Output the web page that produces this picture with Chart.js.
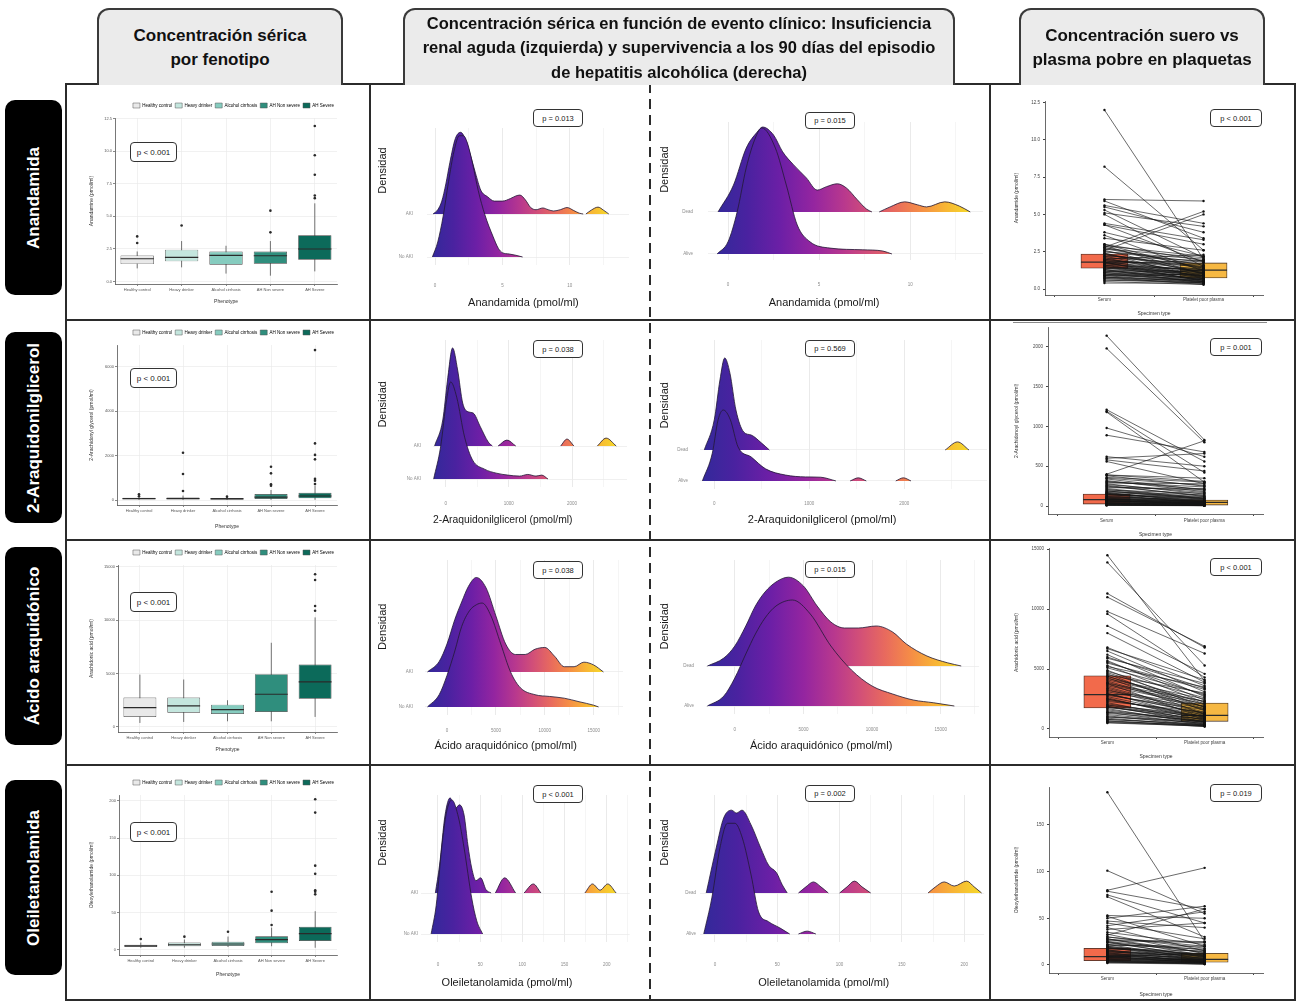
<!DOCTYPE html>
<html>
<head>
<meta charset="utf-8">
<script src="https://cdn.jsdelivr.net/npm/chart.js@4.4.1/dist/chart.umd.min.js"></script>
<style>
  body { margin: 0; background: #fff; width: 1296px; height: 1001px; overflow: hidden; position: relative;
         font-family: "Liberation Sans", Arial, sans-serif; }
  canvas { position: absolute; }
  .hdr { position: absolute; top: 8px; height: 77px; background: #ebebeb; border: 2px solid #3a3a3a; border-bottom: none;
         border-radius: 12px 12px 0 0; box-sizing: border-box; display: flex; align-items: center; justify-content: center;
         text-align: center; font-weight: bold; color: #111; z-index: 4; }
  .lab { position: absolute; left: 5px; width: 57px; background: #000; border-radius: 10px; z-index: 4; }
  .lab span { position: absolute; left: 50%; top: 50%; transform: translate(-50%, -50%) rotate(-90deg);
              color: #fff; font-weight: bold; font-size: 17px; white-space: nowrap; }
  .hl { position: absolute; left: 65px; width: 1231px; height: 2px; background: #2b2b2b; z-index: 3; }
  .vl { position: absolute; top: 83px; height: 918px; width: 2px; background: #2b2b2b; z-index: 3; }
  .dash { position: absolute; top: 83px; height: 918px; width: 2px; z-index: 3;
          background: repeating-linear-gradient(to bottom, #2b2b2b 0 10px, transparent 10px 16px); }
  .pbox { position: absolute; border: 1.5px solid #333; border-radius: 4px; background: #fff; box-sizing: border-box;
          display: flex; align-items: center; justify-content: center; font-size: 7.5px; color: #222; z-index: 5; }
</style>
</head>
<body>

<div class="hdr" style="left:97px;width:246px;font-size:17px;line-height:24px;">Concentración sérica<br>por fenotipo</div>
<div class="hdr" style="left:403px;width:552px;font-size:16.5px;line-height:24.5px;">Concentración sérica en función de evento clínico: Insuficiencia<br>renal aguda (izquierda) y supervivencia a los 90 días del episodio<br>de hepatitis alcohólica (derecha)</div>
<div class="hdr" style="left:1019px;width:246px;font-size:17px;line-height:24px;">Concentración suero vs<br>plasma pobre en plaquetas</div>

<div class="lab" style="top:100px;height:195px;"><span>Anandamida</span></div>
<div class="lab" style="top:332px;height:191px;"><span>2-Araquidonilglicerol</span></div>
<div class="lab" style="top:547px;height:198px;"><span>Ácido araquidónico</span></div>
<div class="lab" style="top:780px;height:195px;"><span>Oleiletanolamida</span></div>

<div class="hl" style="top:83px;"></div>
<div class="hl" style="top:319px;"></div>
<div class="hl" style="top:539px;"></div>
<div class="hl" style="top:764px;"></div>
<div class="hl" style="top:999px;"></div>
<div class="vl" style="left:65px;"></div>
<div class="vl" style="left:369px;"></div>
<div class="dash" style="left:649px;"></div>
<div class="vl" style="left:989px;"></div>
<div class="vl" style="left:1294px;"></div>
<div style="position:absolute;left:1013px;top:322px;width:254px;height:1px;background:#8a8a8a;z-index:3;"></div>

<script>
// ---------- column 1: serum concentration by phenotype (box plots) ----------
const phenotypes = ['Healthy control', 'Heavy drinker', 'Alcohol cirrhosis', 'AH Non severe', 'AH Severe'];

const aeaLow = [1.0, 1.08, 0.6, 0.44, 0.77];
const aeaQ1 = [1.33, 1.54, 1.28, 1.36, 1.67];
const aeaMed = [1.74, 1.85, 2.0, 1.97, 2.49];
const aeaQ3 = [2.0, 2.44, 2.3, 2.3, 3.54];
const aeaHigh = [2.3, 3.1, 2.74, 3.1, 6.0];
const aeaOut = [[2.95, 3.46], [4.3], [], [3.77, 5.44], [6.4, 6.6, 8.2, 9.7, 11.95]];

const agLow = [5, 5, 5, 10, 10];
const agQ1 = [30, 35, 25, 45, 75];
const agMed = [60, 65, 50, 130, 180];
const agQ3 = [100, 110, 90, 270, 330];
const agHigh = [140, 200, 130, 450, 650];
const agOut = [[170, 255], [405, 1170, 2130], [150], [645, 705, 1200, 1500], [720, 870, 950, 1830, 2030, 2550, 6750]];

const aaLow = [375, 470, 530, 530, 940];
const aaQ1 = [940, 1340, 1220, 1400, 2650];
const aaMed = [1810, 1970, 1625, 3060, 4220];
const aaQ3 = [2750, 2750, 2090, 4940, 5840];
const aaHigh = [4900, 4440, 2500, 7875, 10250];
const aaOut = [[], [], [], [], [10875, 11310, 13750, 14280]];

const oeaLow = [3, 3, 4, 5, 3];
const oeaQ1 = [4, 5, 5.4, 9, 12];
const oeaMed = [5.5, 7, 8, 14, 22];
const oeaQ3 = [7, 10, 11, 18.3, 31];
const oeaHigh = [10, 14, 18, 30, 52];
const oeaOut = [[14.7], [17.9], [24.5], [33.5, 52.7, 78], [74.5, 78, 80, 102, 113, 184, 202]];

const aeaTicks = [0, 2.5, 5, 7.5, 10, 12.5];
const agTicks = [0, 2000, 4000, 6000];
const aaTicks = [0, 5000, 10000, 15000];
const oeaTicks = [0, 50, 100, 150, 200];

// ---------- column 2: density ridges (x value, ridge height in row units) ----------
const aeaAkiX = [-0.15, 0.2, 0.5, 0.8, 1.1, 1.5, 1.9, 2.3, 2.6, 3.0, 3.4, 3.9, 4.4, 5.0, 5.6, 6.0, 6.3, 6.7, 7.1, 7.5, 8.0, 8.4, 8.8, 9.3, 9.8, 10.3, 10.7, 11.0, 11.1, 11.2, 11.6, 12.1, 12.5, 12.9];
const aeaAkiH = [0, 0.1, 0.3, 0.7, 1.2, 1.75, 1.9, 1.7, 1.4, 0.95, 0.55, 0.4, 0.3, 0.3, 0.36, 0.42, 0.44, 0.33, 0.15, 0.1, 0.14, 0.1, 0.07, 0.1, 0.15, 0.08, 0.02, 0, null, 0, 0.09, 0.16, 0.09, 0];
const aeaNoAkiX = [-0.2, 0.2, 0.6, 1.0, 1.4, 1.8, 2.1, 2.4, 2.8, 3.2, 3.7, 4.3, 4.7, 5.0, 5.5, 6.0, 6.5];
const aeaNoAkiH = [0, 0.35, 0.95, 1.75, 2.45, 2.82, 2.82, 2.65, 2.15, 1.55, 0.98, 0.48, 0.2, 0.1, 0.07, 0.04, 0];
const aeaDeadX = [-0.55, 0.3, 1.0, 1.6, 1.9, 2.5, 3.0, 3.6, 4.3, 4.9, 5.4, 6.0, 6.5, 7.1, 7.6, 7.9, 8.1, 8.3, 8.9, 9.7, 10.4, 10.9, 11.9, 12.7, 13.3];
const aeaDeadH = [0, 0.64, 1.52, 1.9, 2.02, 1.83, 1.43, 1.12, 0.81, 0.52, 0.6, 0.67, 0.57, 0.29, 0.07, 0, null, 0, 0.12, 0.24, 0.17, 0.12, 0.24, 0.14, 0];
const aeaAliveX = [-0.6, 0, 0.5, 1.0, 1.5, 1.85, 2.6, 3.2, 3.8, 4.5, 5.6, 7.4, 8.5, 9.0];
const aeaAliveH = [0, 0.29, 1.0, 2.05, 2.76, 3.0, 2.52, 1.64, 0.69, 0.29, 0.14, 0.1, 0.07, 0];

const agAkiX = [-175, -45, 30, 110, 190, 270, 365, 435, 550, 675, 740, 780, 830, 970, 1110, 1400, 1820, 1920, 2030, 2300, 2400, 2540, 2700];
const agAkiH = [0, 0.79, 2.0, 2.97, 2.3, 1.3, 1.03, 1.0, 0.58, 0.12, 0, null, 0, 0.18, 0, null, 0, 0.21, 0, null, 0, 0.24, 0];
const agNoAkiX = [-190, -80, 15, 80, 175, 300, 425, 615, 800, 985, 1170, 1300, 1430, 1520, 1620];
const agNoAkiH = [0, 0.97, 2.4, 2.94, 2.48, 1.27, 0.58, 0.3, 0.18, 0.12, 0.09, 0.14, 0.09, 0.12, 0];
const agDeadX = [-105, 0, 60, 110, 165, 228, 310, 390, 495, 580, 1000, 2430, 2560, 2680];
const agDeadH = [0, 0.97, 2.26, 2.97, 2.48, 1.29, 0.58, 0.48, 0.23, 0, null, 0, 0.26, 0];
const agAliveX = [-125, -20, 40, 95, 170, 250, 390, 540, 750, 960, 1120, 1280, 1350, 1430, 1515, 1600, 1750, 1910, 1990, 2070];
const agAliveH = [0, 0.9, 1.97, 2.29, 1.97, 1.1, 0.77, 0.39, 0.19, 0.13, 0.12, 0, null, 0, 0.1, 0, null, 0, 0.1, 0];

const aaAkiX = [-2000, -800, 0, 800, 1500, 2200, 3000, 4000, 5000, 6000, 7000, 8000, 9000, 10000, 11000, 12000, 13000, 14000, 15000, 16000];
const aaAkiH = [0, 0.3, 0.8, 1.5, 2.0, 2.45, 2.7, 2.4, 1.6, 0.8, 0.5, 0.5, 0.65, 0.7, 0.45, 0.15, 0.15, 0.28, 0.2, 0];
const aaNoAkiX = [-2000, -800, 0, 800, 1500, 2300, 3000, 3600, 4500, 5500, 6500, 7500, 9000, 10500, 12000, 13500, 15000, 15500];
const aaNoAkiH = [0, 0.35, 0.9, 1.6, 2.3, 2.75, 2.92, 2.97, 2.6, 1.8, 1.0, 0.55, 0.35, 0.3, 0.25, 0.15, 0.05, 0];
const aaDeadX = [-2000, -800, 0, 800, 1500, 2200, 3000, 3900, 5000, 6000, 7000, 8000, 9000, 10300, 11500, 12500, 14000, 15500, 16500];
const aaDeadH = [0, 0.2, 0.5, 1.0, 1.5, 1.85, 2.1, 2.22, 2.0, 1.5, 1.1, 0.95, 0.95, 1.0, 0.85, 0.55, 0.25, 0.08, 0];
const aaAliveX = [-2000, -800, 0, 800, 1500, 2200, 3000, 4200, 5500, 7000, 8500, 10000, 11500, 13000, 14500, 16000];
const aaAliveH = [0, 0.25, 0.7, 1.3, 1.8, 2.2, 2.5, 2.65, 2.3, 1.5, 0.9, 0.5, 0.3, 0.15, 0.08, 0];

const oeaAkiX = [-3, 2, 8.5, 14.5, 20, 25.5, 31, 35.5, 40, 45, 50.6, 57, 63, 65, 68, 79, 92, 97, 102, 113, 122, 150, 174, 183, 192, 201, 211];
const oeaAkiH = [0, 0.68, 1.9, 2.32, 2.05, 2.15, 1.9, 1.17, 0.61, 0.3, 0.37, 0.08, 0, null, 0, 0.37, 0, null, 0, 0.22, 0, null, 0, 0.22, 0.07, 0.22, 0];
const oeaNoAkiX = [-8, -2, 4.5, 10, 16.5, 24.5, 31, 40, 46, 53];
const oeaNoAkiH = [0, 0.7, 2.1, 2.95, 3.27, 2.83, 2.1, 0.88, 0.32, 0];
const oeaDeadX = [-7, 1, 7, 13.3, 17.3, 21.7, 29, 36.7, 43, 49.5, 54, 58, 62, 67, 73, 79, 85, 91, 95, 100, 106, 112, 118, 125, 150, 171, 177, 184, 192, 202, 208, 214];
const oeaDeadH = [0, 1.1, 1.83, 2.02, 1.95, 2.02, 1.66, 1.1, 0.68, 0.49, 0.2, 0, null, 0, 0.15, 0.27, 0.15, 0, null, 0, 0.15, 0.29, 0.15, 0, null, 0, 0.15, 0.27, 0.17, 0.29, 0.15, 0];
const oeaAliveX = [-9, -2.5, 4, 10, 16, 22, 29, 35, 43, 52, 60, 64, 67, 74, 81];
const oeaAliveH = [0, 0.88, 2.1, 2.7, 2.7, 2.34, 1.44, 0.54, 0.3, 0.15, 0, null, 0, 0.07, 0];

// ---------- column 3: paired serum vs platelet poor plasma ----------
const aeaSerum = [12.0, 8.2, 6.0, 5.9, 5.6, 5.5, 5.3, 5.1, 5.0, 4.4, 4.3, 4.3, 3.8, 3.6, 3.4, 3.0, 2.9, 2.8, 2.6, 2.7, 2.5, 2.4, 2.3, 2.2, 2.1, 2.0, 2.0, 1.9, 1.9, 1.8, 1.8, 1.7, 1.7, 1.6, 1.6, 1.5, 1.5, 1.4, 1.4, 1.3, 1.3, 1.2, 1.2, 1.1, 1.1, 1.0, 1.0, 0.9, 0.9, 0.8, 0.8, 0.7, 0.6, 0.5, 0.4,
                  2.8, 2.7, 2.6, 2.5, 2.4, 2.3, 2.2, 2.1, 2.0, 1.9, 1.8, 1.7, 1.6, 1.5, 1.4, 1.3, 1.2, 1.1, 1.0, 0.9, 0.8, 0.7, 0.6, 2.9, 3.0];
const aeaPpp = [2.0, 2.6, 5.9, 3.4, 4.4, 3.8, 2.1, 4.2, 1.5, 3.3, 3.0, 1.8, 2.2, 1.2, 2.6, 1.9, 1.0, 5.2, 5.0, 1.6, 2.0, 1.1, 1.4, 0.9, 1.7, 1.3, 2.3, 0.8, 1.5, 1.2, 0.7, 1.0, 1.9, 1.3, 0.6, 1.1, 0.9, 1.4, 0.8, 1.0, 0.6, 0.7, 1.2, 0.9, 0.5, 0.8, 0.6, 0.7, 0.4, 0.5, 0.6, 0.4, 0.5, 0.3, 0.4,
               1.4, 2.1, 1.0, 1.8, 0.7, 1.5, 1.9, 0.8, 1.1, 1.6, 0.5, 1.2, 0.9, 0.6, 1.1, 0.4, 0.9, 0.7, 0.5, 1.0, 0.3, 0.6, 0.4, 2.2, 1.3];
const agSerum = [2140, 1980, 1210, 1190, 1180, 980, 890, 620, 600, 580, 560, 400, 390, 380, 360, 340, 320, 300, 280, 260, 240, 220, 210, 200, 190, 180, 170, 160, 150, 150, 140, 130, 120, 110, 100, 100, 95, 90, 85, 80, 75, 70, 65, 60, 55, 50, 45, 40, 35, 30, 25, 20, 15, 10,
                 390, 350, 310, 290, 270, 250, 230, 190, 170, 160, 140, 120, 110, 90, 80, 70, 60, 50, 40, 30, 25, 20, 15, 12, 8];
const agPpp = [830, 800, 560, 420, 300, 620, 680, 500, 660, 440, 280, 820, 350, 250, 300, 200, 180, 240, 150, 120, 200, 100, 90, 160, 80, 140, 45, 60, 110, 30, 90, 50, 70, 40, 60, 25, 55, 30, 15, 50, 35, 20, 18, 40, 45, 30, 12, 15, 28, 20, 8, 10, 5, 6,
               310, 260, 210, 280, 170, 130, 220, 95, 120, 70, 100, 55, 80, 40, 65, 25, 35, 50, 20, 30, 10, 15, 8, 6, 4];
const aaSerum = [14500, 13900, 11300, 11000, 9800, 9600, 8600, 8000, 6800, 6700, 6500, 6200, 5900, 5700, 5500, 5300, 5100, 4900, 4800, 4600, 4500, 4400, 4300, 4100, 4000, 3800, 3700, 3500, 3300, 3200, 3000, 2900, 2800, 2600, 2500, 2400, 2200, 2100, 2000, 1900, 1800, 1700, 1500, 1400, 1300, 1100, 1000, 900, 800, 700, 600, 500,
                 6000, 5600, 5200, 4700, 4200, 3900, 3600, 3400, 3100, 2700, 2300, 2000, 1800, 1600, 1400, 1200, 1000, 800, 650, 550, 4400, 3800, 2900, 2500, 1900];
const aaPpp = [4000, 5300, 6800, 6900, 6300, 4300, 4600, 3900, 3600, 4100, 3100, 2700, 3800, 2400, 3300, 2200, 2900, 1800, 2600, 1500, 3000, 2000, 1200, 2300, 1700, 900, 2100, 1400, 1100, 1900, 800, 1300, 1600, 700, 1000, 1200, 600, 900, 1100, 500, 800, 400, 600, 350, 700, 300, 500, 250, 400, 200, 300, 250,
               3400, 2800, 3500, 2100, 2500, 1600, 1900, 1300, 1700, 1000, 1400, 750, 1050, 550, 850, 450, 650, 350, 300, 220, 1800, 2300, 1250, 900, 600];
const oeaSerum = [185, 101, 80, 79, 75, 73, 53, 52, 50, 47, 45, 42, 40, 38, 35, 33, 32, 30, 28, 27, 25, 24, 22, 21, 20, 19, 18, 17, 16, 15, 14, 13, 12, 11, 10, 10, 9, 8, 8, 7, 6, 6, 5, 4, 3, 3,
                  30, 28, 26, 24, 22, 20, 18, 16, 14, 13, 12, 11, 10, 9, 8, 7, 6, 5, 4, 4, 3, 2, 25, 19, 15];
const oeaPpp = [25, 55, 104, 60, 45, 30, 50, 20, 63, 40, 28, 57, 15, 45, 22, 12, 60, 18, 10, 25, 8, 14, 6, 20, 11, 5, 9, 15, 7, 4, 10, 6, 3, 8, 5, 12, 4, 6, 3, 5, 2, 4, 3, 2, 2, 1,
                20, 13, 24, 9, 17, 7, 12, 5, 9, 3, 7, 4, 6, 2, 5, 3, 4, 2, 3, 1, 2, 1, 16, 10, 11];
// box: [q1, median, q3]
const aeaSerumBox = [1.4, 1.8, 2.35];
const aeaPppBox = [0.74, 1.27, 1.75];
const agSerumBox = [25, 80, 150];
const agPppBox = [12, 45, 75];
const aaSerumBox = [1750, 2860, 4440];
const aaPppBox = [640, 1140, 2170];
const oeaSerumBox = [4.6, 8.9, 17.9];
const oeaPppBox = [2.9, 6, 12.5];
const pairTicksAea = [0, 2.5, 5, 7.5, 10, 12.5];
const pairTicksAg = [0, 500, 1000, 1500, 2000];
const pairTicksAa = [0, 5000, 10000, 15000];
const pairTicksOea = [0, 50, 100, 150];

const pPhenotype = ['p < 0.001', 'p < 0.001', 'p < 0.001', 'p < 0.001'];
const pAki = ['p = 0.013', 'p = 0.038', 'p = 0.038', 'p < 0.001'];
const pSurvival = ['p = 0.015', 'p = 0.569', 'p = 0.015', 'p = 0.002'];
const pSpecimen = ['p < 0.001', 'p = 0.001', 'p < 0.001', 'p = 0.019'];

// ---------------------------------------------------------------------------
Chart.defaults.font.family = "'Liberation Sans', Arial, sans-serif";
Chart.defaults.animation = false;

const phenoColors = ['#e9e9e9', '#c4e6de', '#86ccbf', '#2f8e7d', '#0c6a5a'];
const plasmaStops = [[0, '#33299a'], [0.12, '#4a22a0'], [0.25, '#6c1fa6'], [0.38, '#9425a0'], [0.5, '#b8388e'],
                     [0.6, '#d24f78'], [0.7, '#e86a5e'], [0.8, '#f58c47'], [0.9, '#f8b535'], [1, '#f5d92a']];
const sp = n => '\u00a0'.repeat(n);

function makeCanvas(x, y, w, h) {
  var c = document.createElement('canvas');
  c.width = w; c.height = h;
  c.style.left = x + 'px'; c.style.top = y + 'px';
  c.style.width = w + 'px'; c.style.height = h + 'px';
  document.body.appendChild(c);
  return c;
}

function pBox(x, y, w, h, text, fs) {
  var d = document.createElement('div');
  d.className = 'pbox';
  d.style.left = x + 'px'; d.style.top = y + 'px';
  d.style.width = w + 'px'; d.style.height = h + 'px';
  if (fs) d.style.fontSize = fs + 'px';
  d.textContent = text;
  document.body.appendChild(d);
}

// whiskers behind the box, median line on top
const boxParts = {
  id: 'boxParts',
  beforeDatasetDraw(chart, args) {
    var d = chart.data.datasets[args.index];
    if (!d.lo) return;
    var y = chart.scales.y, c = chart.ctx;
    c.save();
    c.strokeStyle = '#3a3a3a'; c.lineWidth = 0.7;
    args.meta.data.forEach(function (bar, i) {
      c.beginPath();
      c.moveTo(bar.x, y.getPixelForValue(d.lo[i]));
      c.lineTo(bar.x, y.getPixelForValue(d.hi[i]));
      c.stroke();
    });
    c.restore();
  },
  afterDatasetDraw(chart, args) {
    var d = chart.data.datasets[args.index];
    if (!d.med) return;
    var y = chart.scales.y, c = chart.ctx;
    c.save();
    c.strokeStyle = '#2a2a2a'; c.lineWidth = 1.2;
    args.meta.data.forEach(function (bar, i) {
      var py = y.getPixelForValue(d.med[i]);
      c.beginPath();
      c.moveTo(bar.x - bar.width / 2, py);
      c.lineTo(bar.x + bar.width / 2, py);
      c.stroke();
    });
    c.restore();
  }
};

function boxPanel(p) {
  var cv = makeCanvas(67, p.top, 301, p.h);
  var outPts = [];
  p.out.forEach(function (arr, i) { arr.forEach(function (v) { outPts.push({ x: phenotypes[i], y: v }); }); });
  new Chart(cv, {
    type: 'bar',
    data: {
      labels: phenotypes,
      datasets: [
        { type: 'line', data: outPts, showLine: false, pointRadius: 1.3, pointBackgroundColor: '#2a2a2a', pointBorderWidth: 0, order: 0 },
        { data: p.q1.map(function (v, i) { return [v, p.q3[i]]; }), backgroundColor: phenoColors, borderColor: '#3a3a3a',
          borderWidth: 0.7, borderSkipped: false, barPercentage: 0.75, categoryPercentage: 1, order: 1,
          lo: p.lo, hi: p.hi, med: p.med }
      ]
    },
    options: {
      responsive: false, events: [],
      layout: { padding: { left: 18, right: 31, top: p.pt, bottom: p.pb } },
      plugins: {
        tooltip: { enabled: false },
        legend: {
          position: 'top', align: 'end',
          labels: {
            boxWidth: 7, boxHeight: 5, padding: 3, font: { size: 4.5 }, color: '#333',
            generateLabels: function () {
              return phenotypes.map(function (t, i) {
                return { text: t, fillStyle: phenoColors[i], strokeStyle: '#555', lineWidth: 0.5, hidden: false, datasetIndex: 1 };
              });
            }
          }
        }
      },
      scales: {
        x: {
          grid: { color: '#ebebeb', lineWidth: 0.7, offset: false, tickLength: 2, tickColor: '#555' },
          border: { color: '#555', width: 0.8 },
          ticks: { font: { size: 4 }, color: '#555', padding: 1, autoSkip: false, maxRotation: 0 },
          title: { display: true, text: 'Phenotype', font: { size: 5 }, color: '#333', padding: { top: 0, bottom: 3 } },
          afterFit: function (s) { s.height = p.xh; }
        },
        y: {
          min: p.min, max: p.max,
          afterBuildTicks: function (s) { s.ticks = p.ticks.map(function (v) { return { value: v }; }); },
          grid: { color: '#ebebeb', lineWidth: 0.7, tickLength: 2, tickColor: '#555' },
          border: { color: '#555', width: 0.8 },
          ticks: { font: { size: 4 }, color: '#555', padding: 1, callback: p.fmt },
          title: { display: true, text: p.ytitle, font: { size: 5 }, color: '#333', padding: { top: 4, bottom: 0 } },
          afterFit: function (s) { s.width = p.yw; }
        }
      }
    },
    plugins: [boxParts]
  });
}

function ridgeFill(gmin, gmax) {
  return function (ctx) {
    var chart = ctx.chart;
    if (!chart.chartArea) return '#6a2aa0';
    var xs = chart.scales.x;
    var g = chart.ctx.createLinearGradient(xs.getPixelForValue(gmin), 0, xs.getPixelForValue(gmax), 0);
    plasmaStops.forEach(function (s) { g.addColorStop(s[0], s[1]); });
    return g;
  };
}

function ridgePanel(p) {
  var cv = makeCanvas(p.x, p.y, p.w, p.h);
  var allX = [];
  p.ridges.forEach(function (r) { allX = allX.concat(r.x); });
  var gmin = Math.min.apply(null, allX), gmax = Math.max.apply(null, allX);
  new Chart(cv, {
    type: 'line',
    data: {
      datasets: p.ridges.map(function (r) {
        return {
          data: r.x.map(function (x, i) { return { x: x, y: r.h[i] === null ? null : r.base + r.h[i] }; }),
          fill: { value: r.base },
          backgroundColor: ridgeFill(gmin, gmax),
          borderColor: 'rgba(35,25,55,0.9)', borderWidth: 0.9,
          pointRadius: 0, cubicInterpolationMode: 'monotone', spanGaps: false
        };
      })
    },
    options: {
      responsive: false, events: [],
      layout: { padding: { left: p.pl, right: p.pr, top: p.pt, bottom: p.pb } },
      plugins: { legend: { display: false }, tooltip: { enabled: false } },
      scales: {
        x: {
          type: 'linear', min: p.xmin, max: p.xmax,
          afterBuildTicks: function (s) { s.ticks = p.xticks.map(function (v) { return { value: v }; }); },
          ticks: { font: { size: 4.5 }, color: '#8c8c8c', padding: p.xtp, maxRotation: 0, autoSkip: false,
                   callback: function (v) { return p.xlabels.indexOf(v) >= 0 ? String(v) : ''; } },
          grid: { drawTicks: false, lineWidth: 0.8,
                  color: function (c) { return p.xlabels.indexOf(c.tick.value) >= 0 ? '#e4e4e4' : '#f2f2f2'; } },
          border: { display: false },
          title: { display: true, text: p.xtitle, font: { size: 11 }, color: '#1a1a1a', padding: { top: 0, bottom: 5 } },
          afterFit: function (s) { s.height = p.xh; }
        },
        y: {
          type: 'linear', min: p.ymin, max: p.ymax,
          afterBuildTicks: function (s) { s.ticks = [{ value: 0 }, { value: 1 }]; },
          ticks: { font: { size: 4.5 }, color: '#8c8c8c', padding: p.ytp, callback: function (v) { return p.cats[v]; } },
          grid: { drawTicks: false, color: '#ececec', lineWidth: 0.8 },
          border: { display: false },
          title: { display: true, text: p.ytitle, font: { size: 11 }, color: '#1a1a1a', padding: { top: 2, bottom: 0 } },
          afterFit: function (s) { s.width = p.yw; }
        }
      }
    }
  });
}

function pairedPanel(p) {
  var cv = makeCanvas(992, p.y, 302, p.h);
  var ds = p.serum.map(function (s, i) {
    return { type: 'line', data: [{ x: 1, y: s }, { x: 2, y: p.ppp[i] }], borderColor: 'rgba(20,20,20,0.8)', borderWidth: 0.8,
             pointRadius: 1.2, pointBackgroundColor: '#111', pointBorderWidth: 0, order: 0 };
  });
  ds.push({ type: 'bar', data: [{ x: 1, y: [p.sBox[0], p.sBox[2]] }, { x: 2, y: [p.pBox[0], p.pBox[2]] }],
            backgroundColor: ['#f26a4b', '#f6b843'], borderColor: '#3d2b22', borderWidth: 0.8, borderSkipped: false,
            barThickness: 47, order: 10, med: [p.sBox[1], p.pBox[1]] });
  new Chart(cv, {
    type: 'line',
    data: { datasets: ds },
    options: {
      responsive: false, events: [],
      layout: { padding: { left: 18, right: 31, top: p.pt, bottom: p.pb } },
      plugins: { legend: { display: false }, tooltip: { enabled: false } },
      scales: {
        x: {
          type: 'linear', min: 0.4, max: 2.6, offset: false,
          afterBuildTicks: function (s) { s.ticks = [{ value: 1 }, { value: 2 }]; },
          ticks: { font: { size: 4.5 }, color: '#444', padding: p.xtp, maxRotation: 0, autoSkip: false,
                   callback: function (v) { return v === 1 ? 'Serum' : 'Platelet poor plasma'; } },
          grid: { drawOnChartArea: false, tickLength: 2, color: '#444' },
          border: { color: '#444', width: 0.8 },
          title: { display: true, text: 'Specimen type', font: { size: 5 }, color: '#333', padding: { top: 0, bottom: 0 } },
          afterFit: function (s) { s.height = p.xh; }
        },
        y: {
          min: p.min, max: p.max,
          afterBuildTicks: function (s) { s.ticks = p.ticks.map(function (v) { return { value: v }; }); },
          ticks: { font: { size: 4.5 }, color: '#444', padding: 3, callback: p.fmt },
          grid: { drawOnChartArea: false, tickLength: 2, color: '#444' },
          border: { color: '#444', width: 0.8 },
          title: { display: true, text: p.ytitle, font: { size: 5 }, color: '#333', padding: { top: 4, bottom: 0 } },
          afterFit: function (s) { s.width = p.yw; }
        }
      }
    },
    plugins: [boxParts]
  });
}

// ---------------- column 1 ----------------
boxPanel({ top: 85, h: 233, pt: 15, pb: 10, xh: 24, yw: 30, min: -0.2, max: 12.56, ticks: aeaTicks,
           fmt: function (v) { return v.toFixed(1); }, ytitle: 'Anandamine (pmol/ml)',
           lo: aeaLow, q1: aeaQ1, med: aeaMed, q3: aeaQ3, hi: aeaHigh, out: aeaOut });
boxPanel({ top: 322, h: 216, pt: 5, pb: 5, xh: 28, yw: 32, min: -225, max: 6980, ticks: agTicks,
           fmt: function (v) { return String(v); }, ytitle: '2-Arachidonyl glycerol (pmol/ml)',
           lo: agLow, q1: agQ1, med: agMed, q3: agQ3, hi: agHigh, out: agOut });
boxPanel({ top: 542, h: 221, pt: 5, pb: 7, xh: 24, yw: 33, min: -470, max: 15150, ticks: aaTicks,
           fmt: function (v) { return String(v); }, ytitle: 'Arachidonic acid (pmol/ml)',
           lo: aaLow, q1: aaQ1, med: aaMed, q3: aaQ3, hi: aaHigh, out: aaOut });
boxPanel({ top: 767, h: 233, pt: 10, pb: 19, xh: 26, yw: 34, min: -6.7, max: 207.6, ticks: oeaTicks,
           fmt: function (v) { return String(v); }, ytitle: 'Oleoylethanolamide (pmol/ml)',
           lo: oeaLow, q1: oeaQ1, med: oeaMed, q3: oeaQ3, hi: oeaHigh, out: oeaOut });

// ---------------- column 2 ----------------
ridgePanel({ x: 372, y: 85, w: 276, h: 233, pl: 2, pr: 19, pt: 43, pb: 3, xh: 50, yw: 53, xtp: 18, ytp: 14,
             xmin: -0.6, xmax: 14.4, ymin: -0.186, ymax: 3.0, xticks: [0, 2.5, 5, 7.5, 10, 12.5], xlabels: [0, 5, 10],
             cats: ['No AKI', 'AKI'], ytitle: sp(17) + 'Densidad', xtitle: 'Anandamida (pmol/ml)' + sp(3),
             ridges: [{ x: aeaNoAkiX, h: aeaNoAkiH, base: 0 }, { x: aeaAkiX, h: aeaAkiH, base: 1 }] });
ridgePanel({ x: 652, y: 85, w: 336, h: 233, pl: 4, pr: 5, pt: 37, pb: 3, xh: 55, yw: 52, xtp: 22, ytp: 15,
             xmin: -1.1, xmax: 14, ymin: -0.143, ymax: 3.14, xticks: [0, 2.5, 5, 7.5, 10, 12.5], xlabels: [0, 5, 10],
             cats: ['Alive', 'Dead'], ytitle: sp(14) + 'Densidad', xtitle: 'Anandamida (pmol/ml)' + sp(14),
             ridges: [{ x: aeaAliveX, h: aeaAliveH, base: 0 }, { x: aeaDeadX, h: aeaDeadH, base: 1 }] });
ridgePanel({ x: 372, y: 322, w: 276, h: 216, pl: 2, pr: 21, pt: 18, pb: 6, xh: 45, yw: 59, xtp: 14, ytp: 12,
             xmin: -200, xmax: 2870, ymin: -0.24, ymax: 4.21, xticks: [0, 500, 1000, 1500, 2000, 2500], xlabels: [0, 1000, 2000],
             cats: ['No AKI', 'AKI'], ytitle: sp(6) + 'Densidad', xtitle: '2-Araquidonilglicerol (pmol/ml)' + sp(19),
             ridges: [{ x: agNoAkiX, h: agNoAkiH, base: 0 }, { x: agAkiX, h: agAkiH, base: 1 }] });
ridgePanel({ x: 652, y: 322, w: 336, h: 216, pl: 4, pr: 1, pt: 18, pb: 6, xh: 43, yw: 44, xtp: 12, ytp: 12,
             xmin: -150, xmax: 2870, ymin: -0.26, ymax: 4.55, xticks: [0, 500, 1000, 1500, 2000, 2500], xlabels: [0, 1000, 2000],
             cats: ['Alive', 'Dead'], ytitle: sp(6) + 'Densidad', xtitle: '2-Araquidonilglicerol (pmol/ml)' + sp(14),
             ridges: [{ x: agAliveX, h: agAliveH, base: 0 }, { x: agDeadX, h: agDeadH, base: 1 }] });
ridgePanel({ x: 372, y: 542, w: 276, h: 221, pl: 2, pr: 25, pt: 18, pb: 5, xh: 43, yw: 51, xtp: 13, ytp: 12,
             xmin: -2250, xmax: 18000, ymin: -0.23, ymax: 4.2, xticks: [0, 2500, 5000, 7500, 10000, 12500, 15000, 17500], xlabels: [0, 5000, 10000, 15000],
             cats: ['No AKI', 'AKI'], ytitle: sp(7) + 'Densidad', xtitle: 'Ácido araquidónico (pmol/ml)' + sp(12),
             ridges: [{ x: aaNoAkiX, h: aaNoAkiH, base: 0 }, { x: aaAkiX, h: aaAkiH, base: 1 }] });
ridgePanel({ x: 652, y: 542, w: 336, h: 221, pl: 4, pr: 3, pt: 18, pb: 5, xh: 44, yw: 50, xtp: 13, ytp: 12,
             xmin: -2100, xmax: 17800, ymin: -0.2, ymax: 3.65, xticks: [0, 2500, 5000, 7500, 10000, 12500, 15000, 17500], xlabels: [0, 5000, 10000, 15000],
             cats: ['Alive', 'Dead'], ytitle: sp(7) + 'Densidad', xtitle: 'Ácido araquidónico (pmol/ml)' + sp(14),
             ridges: [{ x: aaAliveX, h: aaAliveH, base: 0 }, { x: aaDeadX, h: aaDeadH, base: 1 }] });
ridgePanel({ x: 372, y: 767, w: 276, h: 233, pl: 2, pr: 5, pt: 28, pb: 5, xh: 53, yw: 47, xtp: 20, ytp: 3,
             xmin: -20, xmax: 227, ymin: -0.195, ymax: 3.39, xticks: [0, 25, 50, 75, 100, 125, 150, 175, 200, 225], xlabels: [0, 50, 100, 150, 200],
             cats: ['No AKI', 'AKI'], ytitle: sp(17) + 'Densidad', xtitle: 'Oleiletanolamida (pmol/ml)' + sp(12),
             ridges: [{ x: oeaNoAkiX, h: oeaNoAkiH, base: 0 }, { x: oeaAkiX, h: oeaAkiH, base: 1 }] });
ridgePanel({ x: 652, y: 767, w: 336, h: 233, pl: 4, pr: 1, pt: 28, pb: 5, xh: 53, yw: 44, xtp: 20, ytp: 4,
             xmin: -12, xmax: 216, ymin: -0.195, ymax: 3.39, xticks: [0, 25, 50, 75, 100, 125, 150, 175, 200], xlabels: [0, 50, 100, 150, 200],
             cats: ['Alive', 'Dead'], ytitle: sp(17) + 'Densidad', xtitle: 'Oleiletanolamida (pmol/ml)' + sp(12),
             ridges: [{ x: oeaAliveX, h: oeaAliveH, base: 0 }, { x: oeaDeadX, h: oeaDeadH, base: 1 }] });

// ---------------- column 3 ----------------
pairedPanel({ y: 85, h: 233, pt: 16, pb: 1, xh: 22, yw: 35, xtp: 0, min: -0.4, max: 12.6, ticks: pairTicksAea,
              fmt: function (v) { return v.toFixed(1); }, ytitle: 'Anandamide (pmol/ml)',
              serum: aeaSerum, ppp: aeaPpp, sBox: aeaSerumBox, pBox: aeaPppBox });
pairedPanel({ y: 322, h: 216, pt: 5, pb: 0, xh: 24, yw: 38, xtp: 2, min: -100, max: 2240, ticks: pairTicksAg,
              fmt: function (v) { return String(v); }, ytitle: '2-Arachidonoyl glycerol (pmol/ml)',
              serum: agSerum, ppp: agPpp, sBox: agSerumBox, pBox: agPppBox });
pairedPanel({ y: 542, h: 221, pt: 6, pb: 3, xh: 23, yw: 39, xtp: 1, min: -670, max: 15100, ticks: pairTicksAa,
              fmt: function (v) { return String(v); }, ytitle: 'Arachidonic acid (pmol/ml)',
              serum: aaSerum, ppp: aaPpp, sBox: aaSerumBox, pBox: aaPppBox });
pairedPanel({ y: 767, h: 233, pt: 20, pb: 2, xh: 25, yw: 39, xtp: 1, min: -8.6, max: 190.6, ticks: pairTicksOea,
              fmt: function (v) { return String(v); }, ytitle: 'Oleoylethanolamide (pmol/ml)',
              serum: oeaSerum, ppp: oeaPpp, sBox: oeaSerumBox, pBox: oeaPppBox });

// ---------------- p-value labels ----------------
var boxPY = [142, 368, 592, 822];
var ridgeLY = [109, 340, 561, 785];
var ridgeRY = [112, 340, 561, 785];
var pairPY = [109, 338, 558, 784];
for (var i = 0; i < 4; i++) {
  pBox(130, boxPY[i], 47, 20, pPhenotype[i], 8);
  pBox(533, ridgeLY[i], 50, 18, pAki[i]);
  pBox(805, ridgeRY[i], 50, 17, pSurvival[i]);
  pBox(1210, pairPY[i], 52, 18, pSpecimen[i]);
}
</script>
</body>
</html>
